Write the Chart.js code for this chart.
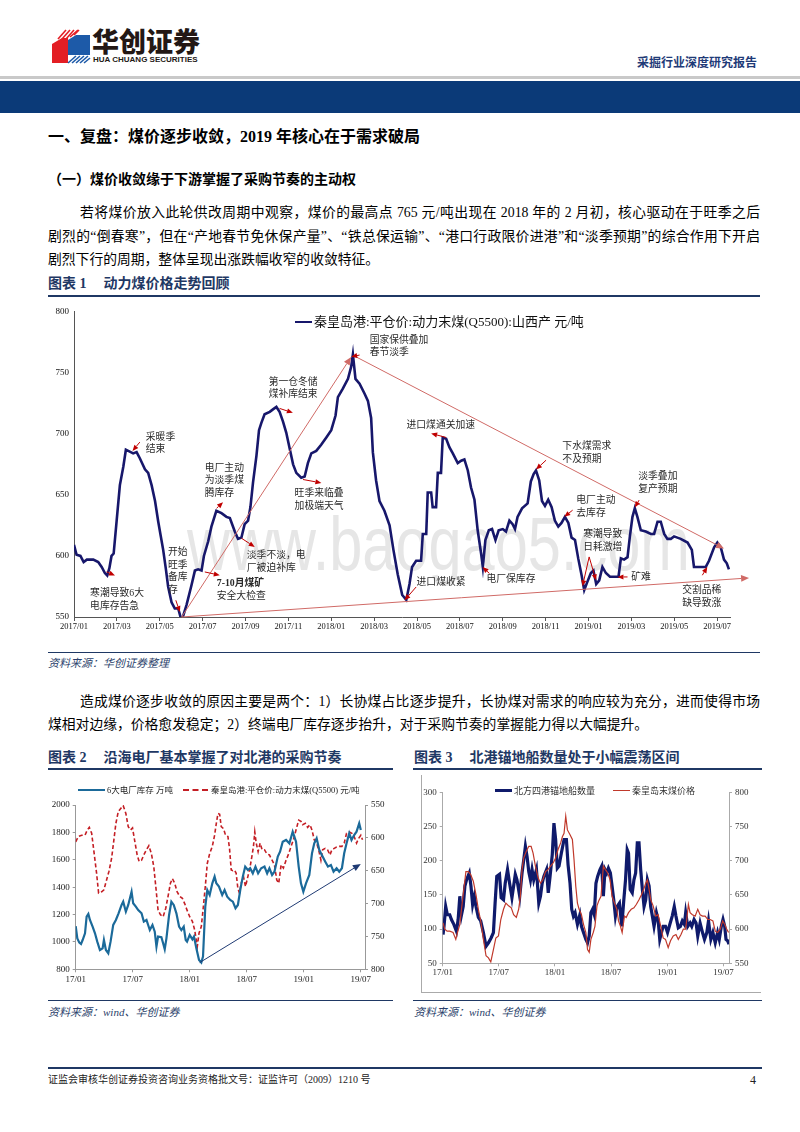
<!DOCTYPE html>
<html lang="zh-CN">
<head>
<meta charset="utf-8">
<title>采掘行业深度研究报告</title>
<script src="https://cdn.jsdelivr.net/npm/chart.js@4.4.1/dist/chart.umd.min.js"></script>
<style>
  html, body { margin: 0; padding: 0; background: #fff; }
  body { width: 800px; height: 1132px; position: relative; overflow: hidden;
         font-family: "Liberation Serif", "Noto Sans CJK SC", serif; color: #000; }
  .a { position: absolute; white-space: nowrap; }
  .rule { position: absolute; background: #1f3864; }
  .bold { font-weight: 700; }
  .line { position: absolute; left: 48px; width: 712px; font-size: 13.8px; line-height: 23.5px;
          white-space: nowrap; text-align: justify; text-align-last: justify; }
  .last { text-align-last: left; }
  .title { font-size: 14px; line-height: 20px; font-weight: 700; color: #1f3864; }
  .src { font-size: 11px; line-height: 14px; font-style: italic; color: #2b3f6b; }
  .box { position: absolute; }
  .leg { position: absolute; white-space: nowrap; }
</style>
</head>
<body>

<!-- header -->
<svg class="a" style="left:48px;top:26px" width="46" height="40" viewBox="0 0 46 40">
  <polygon points="4,18 14,12 20,12 20,37 4,37" fill="#e31e24"/>
  <polygon points="20,14 28,9 42,9 42,29 20,29" fill="#1d5aa8"/>
  <g stroke="#e31e24" stroke-width="1.6">
    <line x1="10" y1="13" x2="18" y2="4"/>
    <line x1="14" y1="13" x2="22" y2="4"/>
    <line x1="18" y1="13" x2="26" y2="4"/>
    <line x1="22" y1="11" x2="30" y2="4"/>
    <line x1="26" y1="9" x2="31" y2="4"/>
  </g>
  <g stroke="#1d5aa8" stroke-width="1.6">
    <line x1="20" y1="37" x2="28" y2="30"/>
    <line x1="24" y1="37" x2="32" y2="30"/>
    <line x1="28" y1="37" x2="36" y2="30"/>
    <line x1="32" y1="37" x2="40" y2="30"/>
    <line x1="36" y1="37" x2="42" y2="32"/>
  </g>
</svg>
<div class="a" style="left:92px;top:26px;font-family:'Noto Sans CJK SC';font-weight:900;font-size:27px;line-height:30px;color:#231815">华创证券</div>
<div class="a" style="left:93px;top:55px;font-family:'Liberation Sans';font-weight:700;font-size:8px;line-height:9px;color:#231815">HUA CHUANG SECURITIES</div>
<div class="a" style="left:637px;top:55px;font-family:'Noto Sans CJK SC';font-weight:700;font-size:12px;line-height:14px;color:#1f3b78">采掘行业深度研究报告</div>
<div class="box" style="left:0;top:76px;width:800px;height:3px;background:#c9c9c9"></div>
<div class="box" style="left:0;top:81px;width:800px;height:32px;background:#0b3a78"></div>

<!-- text -->
<div class="a bold" style="left:48px;top:127px;font-size:16px;line-height:20px">一、复盘：煤价逐步收敛，2019 年核心在于需求破局</div>
<div class="a bold" style="left:48px;top:170px;font-size:14px;line-height:20px">（一）煤价收敛缘于下游掌握了采购节奏的主动权</div>
<div class="line" style="top:201px;text-indent:32px">若将煤价放入此轮供改周期中观察，煤价的最高点 765 元/吨出现在 2018 年的 2 月初，核心驱动在于旺季之后</div>
<div class="line" style="top:224.5px">剧烈的“倒春寒”，但在“产地春节免休保产量”、“铁总保运输”、“港口行政限价进港”和“淡季预期”的综合作用下开启</div>
<div class="line last" style="top:248px">剧烈下行的周期，整体呈现出涨跌幅收窄的收敛特征。</div>

<div class="a title" style="left:48px;top:274px">图表 1<span style="margin-left:17px">动力煤价格走势回顾</span></div>
<div class="rule" style="left:48px;top:295px;width:712px;height:2px"></div>

<!-- chart 1 -->
<div class="a" style="left:187px;top:518px;font-family:'Liberation Sans';font-size:64px;line-height:64px;color:#e6e6e6;transform:scale(0.93,1.2);transform-origin:left bottom">www.baogao5.com</div>
<div class="box" style="left:40px;top:300px;width:720px;height:340px"><canvas id="c1"></canvas></div>
<div class="leg" style="left:295px;top:320.5px;width:17px;height:2.6px;background:#17176b"></div>
<div class="leg" style="left:314px;top:313px;font-size:13px;line-height:18px;color:#111">秦皇岛港:平仓价:动力末煤(Q5500):山西产 元/吨</div>

<div class="rule" style="left:48px;top:651.5px;width:712px;height:1.5px"></div>
<div class="a src" style="left:48px;top:656px">资料来源：华创证券整理</div>

<div class="line" style="top:689.5px;text-indent:32px">造成煤价逐步收敛的原因主要是两个：1）长协煤占比逐步提升，长协煤对需求的响应较为充分，进而使得市场</div>
<div class="line last" style="top:713px">煤相对边缘，价格愈发稳定；2）终端电厂库存逐步抬升，对于采购节奏的掌握能力得以大幅提升。</div>

<!-- chart 2 -->
<div class="a title" style="left:48px;top:747.5px">图表 2<span style="margin-left:17px">沿海电厂基本掌握了对北港的采购节奏</span></div>
<div class="rule" style="left:48px;top:767.5px;width:345px;height:2px"></div>
<div class="box" style="left:40px;top:770px;width:350px;height:222px"><canvas id="c2"></canvas></div>
<div class="leg" style="left:78px;top:789px;width:27px;height:2.2px;background:#1b6a9a"></div>
<div class="leg" style="left:107px;top:784px;font-size:8.5px;line-height:12px;color:#222">6大电厂库存 万吨</div>
<div class="leg" style="left:183px;top:789px;width:25px;height:0;border-top:2px dashed #c41e24"></div>
<div class="leg" style="left:211px;top:784px;font-size:8.5px;line-height:12px;color:#222">秦皇岛港:平仓价:动力末煤(Q5500) 元/吨</div>
<div class="rule" style="left:48px;top:999.5px;width:345px;height:1.5px"></div>
<div class="a src" style="left:48px;top:1005px">资料来源：wind、华创证券</div>

<!-- chart 3 -->
<div class="a title" style="left:414px;top:747.5px">图表 3<span style="margin-left:17px">北港锚地船数量处于小幅震荡区间</span></div>
<div class="rule" style="left:413px;top:767.5px;width:349px;height:2px"></div>
<div class="box" style="left:421px;top:775px;width:340px;height:218px;border-left:1px solid #aaa;border-bottom:1px solid #aaa;box-sizing:border-box"></div>
<div class="box" style="left:415px;top:772px;width:348px;height:225px"><canvas id="c3"></canvas></div>
<div class="leg" style="left:495px;top:788.5px;width:17px;height:3.5px;background:#0f1a6b"></div>
<div class="leg" style="left:514px;top:784px;font-family:'Noto Sans CJK SC';font-size:9px;line-height:13px;color:#333">北方四港锚地船数量</div>
<div class="leg" style="left:613px;top:789.5px;width:17px;height:1.5px;background:#c0392b"></div>
<div class="leg" style="left:632px;top:784px;font-family:'Noto Sans CJK SC';font-size:9px;line-height:13px;color:#333">秦皇岛末煤价格</div>
<div class="rule" style="left:413px;top:999.5px;width:349px;height:1.5px"></div>
<div class="a src" style="left:414px;top:1005px">资料来源：wind、华创证券</div>

<!-- footer -->
<div class="rule" style="left:48px;top:1067px;width:714px;height:2px"></div>
<div class="a" style="left:48px;top:1073px;font-size:10px;line-height:14px;color:#222">证监会审核华创证券投资咨询业务资格批文号：证监许可（2009）1210 号</div>
<div class="a" style="left:750px;top:1072px;font-size:12px;line-height:16px;color:#222">4</div>

<script>
// x values are months counted from 2017/01
const priceMonths = [0,0.12,0.30,0.45,0.60,0.90,1.13,1.29,1.44,1.55,1.65,1.75,1.85,1.99,2.14,2.30,2.42,2.76,2.92,3.07,3.31,3.46,3.62,3.78,3.93,4.04,4.16,4.28,4.39,4.55,4.70,4.86,4.97,5.06,5.25,5.48,5.64,5.79,5.95,6.06,6.26,6.41,6.64,6.88,7.11,7.27,7.50,7.65,7.81,7.96,8.12,8.23,8.35,8.51,8.63,8.74,8.89,9.13,9.28,9.44,9.59,9.75,9.90,10.06,10.22,10.37,10.60,10.76,10.91,11.07,11.30,11.53,11.77,12.00,12.20,12.31,12.54,12.78,12.93,13.01,13.13,13.32,13.55,13.71,13.86,13.94,14.09,14.25,14.48,14.72,14.90,15.10,15.31,15.50,15.65,15.77,15.96,16.19,16.27,16.43,16.50,16.66,16.73,16.89,16.97,17.12,17.20,17.36,17.51,17.67,17.90,18.06,18.21,18.37,18.52,18.68,18.83,18.99,19.07,19.19,19.35,19.50,19.66,19.81,20.00,20.15,20.31,20.46,20.57,20.69,20.90,21.16,21.31,21.44,21.55,21.70,21.83,21.97,22.12,22.28,22.43,22.59,22.74,22.90,23.06,23.21,23.37,23.52,23.68,23.80,23.95,24.11,24.23,24.36,24.50,24.65,24.81,25.00,25.40,25.51,25.66,25.82,25.93,26.05,26.16,26.28,26.44,26.67,26.91,27.06,27.22,27.37,27.53,27.68,27.84,27.99,28.30,28.62,28.82,28.92,29.47,29.62,29.86,30.01,30.17,30.32,30.45,30.55];
const priceValues = [609,601,600,595,597,597,595,591,586,584,590,600,602,629,658,673,687,684,685,680,671,668,658,645,628,617,605,590,575,562,557,557,550,549,560,576,588,589,588,600,612,624,637,635,632,631,620,614,615,626,629,640,660,682,703,709,716,718,720,722,718,710,701,688,675,668,664,665,676,684,686,691,697,703,715,730,737,745,755,765,745,741,733,727,713,685,662,645,637,625,605,585,568,564,577,591,596,596,618,618,652,652,640,640,668,668,697,696,689,684,676,678,679,670,656,646,621,602,591,613,621,622,613,621,622,620,629,626,622,632,639,643,661,667,670,662,645,641,646,640,629,624,627,632,627,615,613,598,584,572,579,586,588,577,580,591,586,583,583,598,597,599,616,632,639,632,621,620,618,618,628,628,618,614,614,616,614,611,605,591,591,596,607,611,607,597,594,589];

const stockMonths = [0.00,0.17,0.38,0.56,0.73,0.98,1.15,1.33,1.50,1.78,2.03,2.27,2.55,2.83,2.97,3.18,3.43,3.67,3.95,4.23,4.51,4.83,5.00,5.28,5.53,5.88,6.05,6.33,6.58,6.93,7.17,7.45,7.80,8.08,8.32,8.50,8.67,9.02,9.20,9.37,9.55,9.83,10.07,10.32,10.60,10.88,11.12,11.37,11.58,11.72,12.00,12.28,12.45,12.70,12.98,13.22,13.40,13.64,13.85,14.10,14.38,14.62,14.80,15.08,15.42,15.67,15.95,16.26,16.54,16.82,17.07,17.35,17.59,17.84,18.12,18.36,18.64,18.92,19.20,19.52,19.87,20.15,20.39,20.67,20.92,21.27,21.51,21.79,22.14,22.49,22.84,23.19,23.47,23.71,23.96,24.24,24.59,24.87,25.11,25.36,25.64,25.99,26.27,26.55,26.86,27.14,27.46,27.74,28.02,28.26,28.51,28.79,29.03,29.31,29.56,29.84,30.01];
const stockValues = [1116,1026,995,985,1014,1063,1185,1204,1160,1112,1063,1002,941,953,1014,941,917,1002,1124,1160,1209,1270,1294,1221,1270,1367,1282,1258,1233,1209,1148,1160,1087,1124,1075,965,1039,1034,990,946,1026,1197,1294,1270,1209,1112,1087,1112,1014,1002,1051,1019,1039,953,868,849,893,1258,1379,1343,1428,1477,1428,1404,1343,1379,1331,1306,1294,1246,1270,1391,1477,1550,1525,1538,1501,1550,1501,1538,1550,1501,1538,1489,1513,1623,1659,1732,1745,1720,1805,1732,1550,1428,1367,1428,1489,1647,1720,1757,1671,1623,1586,1550,1562,1513,1538,1513,1538,1647,1720,1793,1745,1781,1805,1866,1817];
const qhdMonths = [0.00,0.28,0.63,0.98,1.22,1.43,1.68,1.92,2.20,2.41,2.73,2.97,3.25,3.50,3.78,4.02,4.23,4.48,4.76,5.00,5.28,5.53,5.77,5.98,6.23,6.47,6.68,6.93,7.17,7.45,7.70,7.97,8.22,8.43,8.67,8.92,9.20,9.48,9.72,9.97,10.18,10.42,10.67,10.95,11.23,11.47,11.72,12.00,12.28,12.52,12.80,12.98,13.22,13.40,13.64,13.85,14.10,14.38,14.62,14.80,14.97,15.15,15.32,15.56,15.77,16.02,16.19,16.37,16.54,16.72,16.89,17.07,17.24,17.42,17.66,17.87,18.12,18.36,18.57,18.71,18.85,19.00,19.20,19.41,19.62,19.87,20.11,20.39,20.67,20.92,21.16,21.37,21.62,21.86,22.14,22.42,22.67,22.91,23.19,23.47,23.71,23.89,24.17,24.41,24.66,24.87,25.11,25.36,25.57,25.81,25.99,26.27,26.51,26.76,26.97,27.21,27.46,27.74,28.02,28.26,28.51,28.79,29.07,29.31,29.56,29.77,30.01,30.19];
const qhdValues = [606,598,596,596,588,584,593,621,654,684,682,679,664,651,631,603,578,560,555,551,563,583,588,585,606,626,636,634,626,618,612,624,644,674,710,717,720,707,689,669,662,669,682,689,692,700,710,720,727,740,765,745,735,710,674,639,624,613,596,578,563,564,583,586,596,598,616,649,650,649,654,677,684,669,659,674,659,644,626,613,591,608,621,608,618,618,624,626,634,641,664,669,641,646,634,624,613,603,588,573,575,580,578,584,580,588,603,608,618,634,618,616,618,626,618,616,614,613,613,608,593,591,593,598,608,601,596,603];

const shipMonths = [0.04,0.14,0.32,0.50,0.75,0.93,1.19,1.47,1.65,1.83,2.01,2.19,2.37,2.55,2.84,3.02,3.20,3.38,3.56,3.81,4.06,4.35,4.63,4.89,5.17,5.42,5.60,5.78,6.07,6.25,6.50,6.68,6.93,7.15,7.40,7.58,7.76,7.94,8.23,8.48,8.66,8.84,9.02,9.20,9.38,9.55,9.73,10.02,10.27,10.45,10.63,10.81,11.10,11.28,11.46,11.71,11.89,12.07,12.25,12.43,12.68,12.97,13.22,13.40,13.61,13.79,13.97,14.15,14.40,14.66,14.83,15.05,15.30,15.48,15.66,15.84,16.02,16.20,16.38,16.56,16.81,16.99,17.17,17.35,17.53,17.71,17.92,18.10,18.28,18.46,18.64,18.89,19.14,19.36,19.54,19.72,19.86,20.04,20.26,20.44,20.62,20.80,20.98,21.16,21.34,21.52,21.70,21.88,22.06,22.23,22.41,22.59,22.84,23.02,23.20,23.38,23.56,23.81,24.03,24.28,24.53,24.75,24.93,25.18,25.40,25.61,25.83,25.97,26.19,26.44,26.62,26.87,27.08,27.26,27.51,27.77,27.98,28.23,28.41,28.66,28.88,29.13,29.38,29.56,29.78,29.96,30.14,30.28,30.45,30.60];
const shipValues = [92,104,133,121,121,114,107,97,114,148,121,133,163,172,182,163,136,148,133,117,112,95,75,80,87,95,138,177,180,146,143,167,187,167,146,163,180,172,148,182,201,221,206,184,172,187,172,187,138,148,167,177,187,153,175,209,255,231,189,192,211,231,231,194,167,129,119,124,107,121,104,95,85,80,90,124,129,121,167,177,187,192,148,187,182,189,182,163,143,119,133,138,104,143,172,216,211,158,153,172,182,226,226,187,158,133,143,172,163,133,119,104,124,114,85,95,104,104,95,107,119,133,119,102,104,112,107,124,104,109,104,114,109,90,109,95,85,95,112,85,95,80,95,85,104,114,104,85,83,78];
const coalMonths = [0.04,0.22,0.47,0.75,1.11,1.40,1.58,1.83,2.08,2.30,2.48,2.73,2.98,3.27,3.56,3.81,4.06,4.35,4.63,4.89,5.14,5.42,5.68,5.96,6.21,6.50,6.75,7.04,7.33,7.58,7.87,8.12,8.30,8.48,8.66,8.94,9.20,9.45,9.66,9.91,10.20,10.45,10.70,10.99,11.24,11.53,11.82,12.07,12.32,12.61,12.79,12.97,13.15,13.33,13.61,13.86,14.04,14.22,14.40,14.58,14.83,15.05,15.30,15.48,15.66,15.84,16.09,16.27,16.49,16.67,16.92,17.17,17.39,17.64,17.89,18.10,18.36,18.61,18.79,19.00,19.18,19.43,19.61,19.86,20.15,20.44,20.69,20.98,21.23,21.48,21.70,21.88,22.06,22.23,22.49,22.77,23.02,23.31,23.56,23.81,24.10,24.35,24.64,24.93,25.18,25.47,25.72,25.97,26.26,26.44,26.69,26.98,27.26,27.51,27.77,28.05,28.34,28.59,28.88,29.13,29.38,29.67,29.92,30.14,30.35,30.55];
const coalValues = [609,600,597,597,595,585,595,607,638,663,684,684,680,670,650,629,612,585,561,558,552,570,587,590,614,629,638,634,631,621,617,629,648,687,704,714,721,721,711,692,675,667,672,684,687,692,697,704,716,726,735,740,765,745,738,731,701,663,638,629,621,607,595,570,566,585,595,604,634,641,648,692,687,682,672,648,638,629,612,604,595,619,617,624,629,631,636,643,650,658,667,672,658,643,634,619,621,604,587,585,573,583,590,592,585,592,600,600,636,624,621,619,629,621,619,619,614,614,612,597,595,600,612,607,600,595];

// notes on chart 1, anchored in data space: [month, price]
const notes1 = [
  { text: ['寒潮导致6大', '电库存告急'], at: [0.75, 569.4] },
  { text: ['采暖季', '结束'], at: [3.35, 697.3] },
  { text: ['开始', '旺季', '备库', '存'], at: [4.38, 603] },
  { text: ['电厂主动', '为淡季煤', '腾库存'], at: [6.10, 672] },
  { text: ['淡季不淡，电', '厂被迫补库'], at: [8.06, 600.6] },
  { text: ['7-10月煤矿', '安全大检查'], at: [6.66, 577.6], boldFirst: true },
  { text: ['第一仓冬储', '煤补库结束'], at: [9.08, 742.4] },
  { text: ['旺季来临叠', '加极端天气'], at: [10.29, 651.4] },
  { text: ['国家保供叠加', '春节淡季'], at: [13.79, 776.8] },
  { text: ['进口煤通关加速'], at: [15.51, 707.1] },
  { text: ['进口煤收紧'], at: [15.98, 578.4] },
  { text: ['电厂保库存'], at: [19.24, 580.9] },
  { text: ['下水煤需求', '不及预期'], at: [22.78, 689.9] },
  { text: ['电厂主动', '去库存'], at: [23.43, 645.7] },
  { text: ['寒潮导致', '日耗激增'], at: [23.75, 617.8] },
  { text: ['矿难'], at: [25.99, 582.5] },
  { text: ['淡季叠加', '复产预期'], at: [26.32, 665.3] },
  { text: ['交割品稀', '缺导致涨'], at: [28.37, 571.9] }
];
const arrows1 = [
  [1.52, 587, 1.91, 584], [3.07, 693.2, 2.73, 686], [4.75, 563.7, 4.94, 554],
  [6.65, 639, 6.95, 644], [7.81, 614.5, 8.43, 607.4], [6.10, 586.9, 6.80, 584.2],
  [9.59, 720.8, 10.21, 717.2], [10.68, 662.6, 11.54, 659.8], [13.32, 764.5, 12.93, 763.1],
  [17.36, 697, 16.66, 700.3], [15.96, 574.6, 15.42, 563.7], [19.38, 585.6, 19.06, 591],
  [22.02, 678.4, 21.55, 670.8], [23.26, 637.5, 22.87, 632], [24.03, 599.2, 23.72, 575.2],
  [24.03, 599.2, 24.35, 580], [25.82, 582.8, 25.35, 582.8], [26.36, 645.7, 26.16, 639.7],
  [29.31, 584.2, 29.54, 591]
];
const trends1 = [
  [5.02, 550, 12.93, 763],
  [5.02, 550, 31.49, 582],
  [13.05, 764, 30.32, 606]
];
const trend2 = [[13.05, 849, 30.01, 1569]];

Chart.defaults.font.family = '"Liberation Serif", "Noto Sans CJK SC", serif';

function pairs(xs, ys) {
  return xs.map((x, i) => ({ x: x, y: ys[i] }));
}
function monthLabel(v, short) {
  const y = 2017 + Math.floor(v / 12), m = Math.round(v % 12) + 1;
  const mm = (m < 10 ? '0' : '') + m;
  return (short ? String(y).slice(2) : y) + '/' + mm;
}
function tickList(step) {
  return s => {
    const t = [];
    for (let v = 0; v <= 30; v += step) t.push({ value: v });
    s.ticks = t;
  };
}
const plain = v => String(v);

function drawArrow(ctx, x0, y0, x1, y1, color, size) {
  const a = Math.atan2(y1 - y0, x1 - x0), c = Math.cos(a), s = Math.sin(a);
  const bx = x1 - size * c, by = y1 - size * s;
  ctx.strokeStyle = color;
  ctx.fillStyle = color;
  ctx.beginPath(); ctx.moveTo(x0, y0); ctx.lineTo(bx, by); ctx.stroke();
  ctx.beginPath(); ctx.moveTo(x1, y1);
  ctx.lineTo(bx + size * 0.42 * s, by - size * 0.42 * c);
  ctx.lineTo(bx - size * 0.42 * s, by + size * 0.42 * c);
  ctx.closePath(); ctx.fill();
}
function makeNotes(cfg) {
  return {
    id: 'notes',
    afterDatasetsDraw(chart) {
      const ctx = chart.ctx, xs = chart.scales.x, ys = chart.scales[cfg.axis];
      const X = v => xs.getPixelForValue(v), Y = v => ys.getPixelForValue(v);
      ctx.save();
      ctx.lineWidth = 1;
      (cfg.lines || []).forEach(l => drawArrow(ctx, X(l[0]), Y(l[1]), X(l[2]), Y(l[3]), cfg.lineColor, cfg.lineHead));
      (cfg.arrows || []).forEach(l => drawArrow(ctx, X(l[0]), Y(l[1]), X(l[2]), Y(l[3]), cfg.arrowColor, 6));
      ctx.fillStyle = '#2a2a2a';
      ctx.textAlign = 'left';
      ctx.textBaseline = 'middle';
      (cfg.texts || []).forEach(t => t.text.forEach((s, i) => {
        ctx.font = (t.boldFirst && i === 0 ? 'bold ' : '') + '9.8px "Liberation Serif", "Noto Sans CJK SC"';
        ctx.fillText(s, X(t.at[0]), Y(t.at[1]) + i * 12.8);
      }));
      ctx.restore();
    }
  };
}

const noHover = { animation: false, events: [], responsive: true, maintainAspectRatio: false };

// chart 1
new Chart(document.getElementById('c1'), {
  type: 'line',
  data: { datasets: [{ data: pairs(priceMonths, priceValues), borderColor: '#17176b', borderWidth: 2.6,
    pointRadius: 0, tension: 0, fill: false }] },
  options: Object.assign({}, noHover, {
    layout: { padding: { top: 11.7, right: 30, bottom: 0, left: 0 } },
    plugins: { legend: { display: false }, tooltip: { enabled: false } },
    scales: {
      x: { type: 'linear', min: 0, max: 30.6, afterBuildTicks: tickList(2),
        afterFit: s => { s.height = 23; },
        ticks: { callback: v => monthLabel(v, false), font: { size: 8.5 }, color: '#111', padding: 1, maxRotation: 0, autoSkip: false },
        grid: { drawOnChartArea: false, tickLength: 4, color: '#555' }, border: { color: '#555' } },
      y: { min: 550, max: 800, afterFit: s => { s.width = 34; },
        ticks: { stepSize: 50, callback: plain, font: { size: 9 }, color: '#111', padding: 5 },
        grid: { drawOnChartArea: false, drawTicks: false }, border: { color: '#555' } }
    }
  }),
  plugins: [makeNotes({ axis: 'y', lines: trends1, lineColor: '#d06a66', lineHead: 8,
    arrows: arrows1, arrowColor: '#c00000', texts: notes1 })]
});

// chart 2
new Chart(document.getElementById('c2'), {
  type: 'line',
  data: { datasets: [
    { data: pairs(stockMonths, stockValues), yAxisID: 'y', borderColor: '#1b6a9a', borderWidth: 2.2,
      pointRadius: 0, tension: 0 },
    { data: pairs(qhdMonths, qhdValues), yAxisID: 'y1', borderColor: '#c41e24', borderWidth: 1.6,
      borderDash: [4, 2.5], pointRadius: 0, tension: 0 }
  ] },
  options: Object.assign({}, noHover, {
    layout: { padding: { top: 35, right: 0, bottom: 0, left: 0 } },
    plugins: { legend: { display: false }, tooltip: { enabled: false } },
    scales: {
      x: { type: 'linear', min: 0, max: 30.45, afterBuildTicks: tickList(6),
        afterFit: s => { s.height = 22.7; },
        ticks: { callback: v => monthLabel(v, true), font: { size: 9 }, color: '#222', padding: 2, maxRotation: 0, autoSkip: false },
        grid: { drawOnChartArea: false, tickLength: 3, color: '#999' }, border: { color: '#999' } },
      y: { position: 'left', min: 800, max: 2000, afterFit: s => { s.width = 35.7; },
        ticks: { stepSize: 200, callback: plain, font: { size: 9 }, color: '#222', padding: 3 },
        grid: { drawOnChartArea: false, tickLength: 3, color: '#999' }, border: { color: '#999' } },
      y1: { position: 'right', reverse: true, min: 550, max: 800, afterFit: s => { s.width = 25; },
        ticks: { stepSize: 50, callback: plain, font: { size: 9 }, color: '#222', padding: 3 },
        grid: { drawOnChartArea: false, tickLength: 3, color: '#999' }, border: { color: '#999' } }
    }
  }),
  plugins: [makeNotes({ axis: 'y', lines: trend2, lineColor: '#1f3a73', lineHead: 8 })]
});

// chart 3
new Chart(document.getElementById('c3'), {
  type: 'line',
  data: { datasets: [
    { data: pairs(shipMonths, shipValues), yAxisID: 'y', borderColor: '#0f1a6b', borderWidth: 3.2,
      pointRadius: 0, tension: 0, order: 1 },
    { data: pairs(coalMonths, coalValues), yAxisID: 'y1', borderColor: '#c0392b', borderWidth: 1.2,
      pointRadius: 0, tension: 0, order: 0 }
  ] },
  options: Object.assign({}, noHover, {
    layout: { padding: { top: 20.3, right: 14, bottom: 17.7, left: 0 } },
    plugins: { legend: { display: false }, tooltip: { enabled: false } },
    scales: {
      x: { type: 'linear', min: 0, max: 30.6, afterBuildTicks: tickList(6),
        afterFit: s => { s.height = 16; },
        ticks: { callback: v => monthLabel(v, true), font: { size: 9 }, color: '#333', padding: 1, maxRotation: 0, autoSkip: false },
        grid: { drawOnChartArea: false, tickLength: 3, color: '#aaa' }, border: { color: '#aaa' } },
      y: { position: 'left', min: 50, max: 300, afterFit: s => { s.width = 27.7; },
        ticks: { stepSize: 50, callback: plain, font: { size: 9 }, color: '#333', padding: 3 },
        grid: { drawOnChartArea: false, tickLength: 3, color: '#aaa' }, border: { color: '#aaa' } },
      y1: { position: 'right', min: 550, max: 800, afterFit: s => { s.width = 20; },
        ticks: { stepSize: 50, callback: plain, font: { size: 9 }, color: '#333', padding: 3 },
        grid: { drawOnChartArea: false, tickLength: 3, color: '#aaa' }, border: { color: '#aaa' } }
    }
  })
});
</script>
</body>
</html>
